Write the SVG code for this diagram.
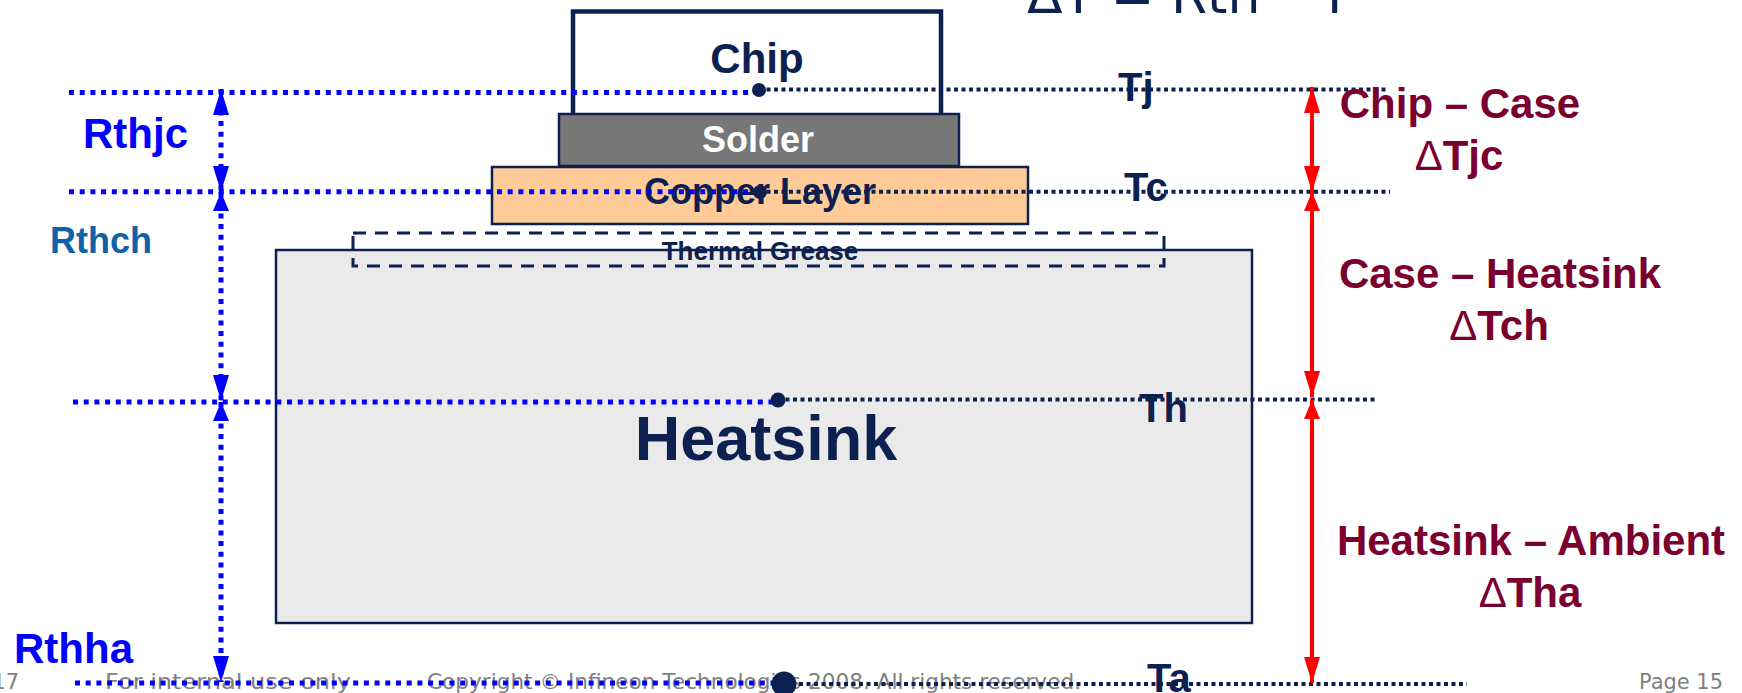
<svg xmlns="http://www.w3.org/2000/svg" width="1742" height="693" viewBox="0 0 1742 693">
<defs>
<style>
.b{font-family:"Liberation Sans",Arial,sans-serif;font-weight:bold}
.nvt{fill:#0C2150}
.lbl{font-size:42px;fill:#7A0030;text-anchor:middle}
.tl{font-size:40px;fill:#0C2150}
.foot{font-family:"DejaVu Sans",Verdana,sans-serif;font-size:21px;fill:#808080}
.bl{stroke:#0000FF;stroke-width:5;stroke-dasharray:5 5.7;fill:none}
.nv{stroke:#0C2150;stroke-width:4;stroke-dasharray:4 3.5;fill:none}
.red{stroke:#FF0000;stroke-width:4;fill:none}
.box{stroke:#0C2150;stroke-width:2.5}
</style>
<marker id="ab" markerUnits="userSpaceOnUse" markerWidth="26" markerHeight="16" refX="26" refY="8" orient="auto-start-reverse" viewBox="0 0 26 16"><path d="M0,0 L26,8 L0,16 z" fill="#0000FF"/></marker>
<marker id="abs" markerUnits="userSpaceOnUse" markerWidth="19" markerHeight="16" refX="19" refY="8" orient="auto-start-reverse" viewBox="0 0 19 16"><path d="M0,0 L19,8 L0,16 z" fill="#0000FF"/></marker>
<marker id="ar" markerUnits="userSpaceOnUse" markerWidth="26" markerHeight="16" refX="26" refY="8" orient="auto-start-reverse" viewBox="0 0 26 16"><path d="M0,0 L26,8 L0,16 z" fill="#FF0000"/></marker>
<marker id="ars" markerUnits="userSpaceOnUse" markerWidth="19" markerHeight="16" refX="19" refY="8" orient="auto-start-reverse" viewBox="0 0 19 16"><path d="M0,0 L19,8 L0,16 z" fill="#FF0000"/></marker>
</defs>
<rect width="1742" height="693" fill="#FFFFFF"/>

<g id="footer">
<text class="foot" x="19" y="689" text-anchor="end">17</text>
<text class="foot" x="105" y="689" textLength="246" lengthAdjust="spacingAndGlyphs">For internal use only</text>
<text class="foot" x="427" y="689" textLength="654" lengthAdjust="spacingAndGlyphs">Copyright © Infineon Technologies 2008. All rights reserved.</text>
<text class="foot" x="1639" y="689" textLength="84" lengthAdjust="spacingAndGlyphs">Page 15</text>
</g>

<g id="formula">
<text x="1027" y="12.5" font-family="DejaVu Sans, Verdana, sans-serif" font-size="52" fill="#0C2150">ΔT = Rth *<tspan x="1327">P</tspan></text>
</g>

<g id="heatsink">
<rect class="box" x="276" y="250" width="976" height="373" fill="#EAEAEA"/>
<text class="b nvt" x="766" y="460" font-size="63" text-anchor="middle">Heatsink</text>
</g>

<g id="grease">
<rect x="353" y="233" width="811" height="33" fill="none" stroke="#0C2150" stroke-width="3" stroke-dasharray="13 9"/>
<text class="b nvt" x="760" y="260" font-size="26" text-anchor="middle">Thermal Grease</text>
</g>

<g id="chip">
<rect x="573" y="11.5" width="368" height="104" fill="#FFFFFF" stroke="#0C2150" stroke-width="4.5"/>
<text class="b nvt" x="757" y="73" font-size="42" text-anchor="middle">Chip</text>
</g>

<g id="copper">
<rect class="box" x="492" y="167" width="536" height="57" fill="#FFCC99"/>
<text class="b nvt" x="760" y="204" font-size="36" text-anchor="middle">Copper Layer</text>
</g>

<g id="solder">
<rect class="box" x="559" y="114" width="400" height="52" fill="#777777"/>
<text class="b" x="758" y="151.5" font-size="36" fill="#FFFFFF" text-anchor="middle">Solder</text>
</g>

<g id="connectors">
<line class="bl" x1="69" y1="92.5" x2="759" y2="92.5"/>
<line class="bl" x1="69" y1="191.7" x2="759" y2="191.7"/>
<line class="bl" x1="73" y1="402" x2="778" y2="402"/>
<line class="bl" x1="75" y1="683" x2="784" y2="683"/>
<line class="nv" x1="759" y1="89.5" x2="1387" y2="89.5"/>
<line class="nv" x1="759" y1="191.7" x2="1390" y2="191.7"/>
<line class="nv" x1="778" y1="399.5" x2="1375" y2="399.5"/>
<line class="nv" x1="784" y1="684" x2="1467" y2="684"/>
<line class="bl" x1="221" y1="89" x2="221" y2="192" marker-start="url(#ab)" marker-end="url(#ab)"/>
<line class="bl" x1="221" y1="192" x2="221" y2="401" marker-start="url(#abs)" marker-end="url(#ab)"/>
<line class="bl" x1="221" y1="402" x2="221" y2="682" marker-start="url(#abs)" marker-end="url(#ab)"/>
<line class="red" x1="1312" y1="87" x2="1312" y2="192" marker-start="url(#ar)" marker-end="url(#ar)"/>
<line class="red" x1="1312" y1="192" x2="1312" y2="397" marker-start="url(#ars)" marker-end="url(#ar)"/>
<line class="red" x1="1312" y1="400" x2="1312" y2="683" marker-start="url(#ars)" marker-end="url(#ar)"/>
</g>

<g id="points">
<circle cx="759" cy="90" r="7" fill="#0C2150"/>
<circle cx="760" cy="192" r="7" fill="#0C2150"/>
<circle cx="778" cy="400" r="7.5" fill="#0C2150"/>
<circle cx="784" cy="684" r="12.5" fill="#0C2150"/>
</g>

<g id="temps">
<text class="b tl" x="1118" y="101">Tj</text>
<text class="b tl" x="1124" y="201">Tc</text>
<text class="b tl" x="1139" y="422">Th</text>
<text class="b tl" x="1147" y="692">Ta</text>
</g>

<g id="resistances">
<text class="b" x="83" y="148" font-size="42" fill="#0000FF">Rthjc</text>
<text class="b" x="50" y="253" font-size="36" fill="#0E62A8">Rthch</text>
<text class="b" x="14" y="663" font-size="42" fill="#0000FF">Rthha</text>
</g>

<g id="deltas">
<text class="b lbl" x="1460" y="118">Chip – Case</text>
<text class="b lbl" x="1459" y="170"><tspan font-weight="normal">Δ</tspan>Tjc</text>
<text class="b lbl" x="1500" y="288">Case – Heatsink</text>
<text class="b lbl" x="1499" y="340"><tspan font-weight="normal">Δ</tspan>Tch</text>
<text class="b lbl" x="1531" y="555">Heatsink – Ambient</text>
<text class="b lbl" x="1530" y="607"><tspan font-weight="normal">Δ</tspan>Tha</text>
</g>
</svg>
